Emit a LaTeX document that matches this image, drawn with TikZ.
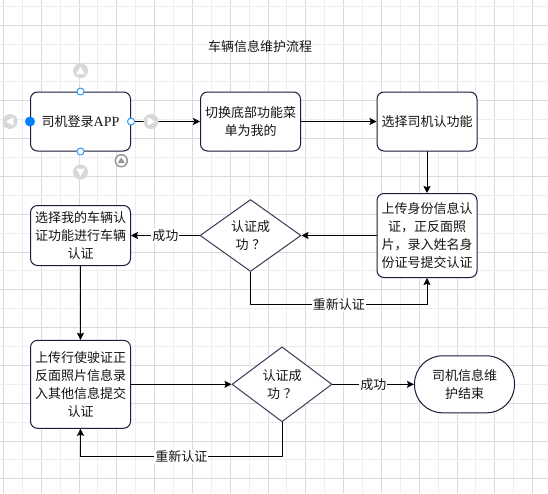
\documentclass[tikz,border=0pt]{standalone}
\usepackage{fontspec}
\setmainfont{Noto Sans CJK SC}
\newfontfamily\latinserif{Liberation Serif}
\usetikzlibrary{shapes.geometric,arrows.meta}

\definecolor{navy}{RGB}{28,28,60}
\definecolor{rim}{RGB}{58,58,88}
\definecolor{gridmajor}{RGB}{218,218,218}
\definecolor{gridminor}{RGB}{238,238,238}
\definecolor{handle}{RGB}{216,216,216}
\definecolor{ring}{RGB}{150,150,150}
\definecolor{selblue}{RGB}{51,153,255}
\definecolor{dotblue}{RGB}{0,127,255}
\definecolor{ink}{RGB}{20,20,20}
\newcommand\flowfont{\fontsize{13}{18}\selectfont}

\begin{document}
\begin{tikzpicture}[x=1pt,y=-1pt,line cap=round,line join=round,
  box/.style={draw=navy,line width=1pt,rounded corners=7pt,fill=white,
    minimum width=\W,inner sep=0pt,align=center,text=ink,font=\flowfont},
  decision/.style={diamond,aspect=1.4,draw=rim,line width=1pt,fill=white,
    inner sep=0pt,align=center,text=ink,font=\flowfont},
  terminal/.style={draw=navy,line width=1pt,rounded corners=28pt,fill=white,
    minimum width=\W,minimum height=57,inner sep=0pt,align=center,text=ink,font=\flowfont},
  flow/.style={line width=1pt,black,-{Stealth[length=7pt,width=7pt,inset=1.2pt]}},
  lbl/.style={fill=white,inner sep=1pt,text=ink,font=\flowfont}]

\def\W{100}
\def\r{7.5}

\fill[white] (0,0) rectangle (548,493);
\useasboundingbox (0,0) rectangle (548,493);

\foreach \i in {0,...,14} {
  \draw[gridminor,line width=0.8pt] ({22.2+37.8*\i},0) -- ++(0,493);
  \draw[gridmajor,line width=0.8pt] ({3.3+37.8*\i},0) -- ++(0,493);
}
\foreach \i in {0,...,12} {
  \draw[gridminor,line width=0.8pt] (0,{6.2+37.8*\i}) -- ++(548,0);
  \draw[gridmajor,line width=0.8pt] (0,{25.1+37.8*\i}) -- ++(548,0);
}

\node[text=ink,font=\flowfont] (T) at (260,47) {车辆信息维护流程};

\node[box,minimum height=59] (A) at (80.5,121.5) {司机登录{\latinserif\fontsize{14}{18}\selectfont APP}};
\node[box,minimum height=59] (B) at (250.5,121.5) {切换底部功能菜\\单为我的};
\node[box,minimum height=59] (C) at (427,121.5) {选择司机认功能};
\node[box,minimum height=84] (D) at (427,235.5) {上传身份信息认\\证，正反面照\\片，录入姓名身\\份证号提交认证};
\node[decision,minimum width=101,minimum height=72] (E) at (250.5,235.5) {认证成\\功\hspace{4pt}？};
\node[box,minimum height=60] (F) at (80.5,235.5) {选择我的车辆认\\证功能进行车辆\\认证};
\node[box,minimum height=88] (G) at (80.5,384.3) {上传行使驶证正\\反面照片信息录\\入其他信息提交\\认证};
\node[decision,minimum width=100,minimum height=75] (H) at (282,384.3) {认证成\\功\hspace{4pt}？};
\node[terminal] (K) at (464.5,384.3) {司机信息维\\护结束};

\draw[flow] (A) -- (B);
\draw[flow] (B) -- (C);
\draw[flow] (C) -- (D);
\draw[flow] (D) -- (E);
\draw[flow] (E) -- node[lbl] {成功} (F);
\draw[flow] (E.south) -- ++(0,32.5) -| node[lbl,pos=0.25] {重新认证} (D.south);
\draw[flow] (F) -- (G);
\draw[flow] (G) -- (H);
\draw[flow] (H) -- node[lbl] {成功} (K);
\draw[flow] (H.south) -- ++(0,34.5) -| node[lbl,pos=0.25] {重新认证} (G.south);

\fill[handle] (80.5,70.7) circle (\r);
\fill[white] (80.5,66.7) -- (76.3,74) -- (84.7,74) -- cycle;
\fill[handle] (80.5,172) circle (\r);
\fill[white] (80.5,176) -- (76.3,168.7) -- (84.7,168.7) -- cycle;
\fill[handle] (10,121.5) circle (\r);
\fill[white] (6,121.5) -- (13.3,117.3) -- (13.3,125.7) -- cycle;
\fill[handle] (151,121.5) circle (\r);
\fill[white] (155,121.5) -- (147.7,117.3) -- (147.7,125.7) -- cycle;

\draw[ring,line width=1.5pt,fill=white] (121.3,160.7) circle (6);
\fill[ring] (121.3,157.3) -- (117.8,163) -- (124.8,163) -- cycle;

\draw[selblue,line width=1pt,fill=white] (A.north) circle (3.5);
\draw[selblue,line width=1pt,fill=white] (A.south) circle (3.5);
\draw[selblue,line width=1pt,fill=white] (A.east) circle (3.5);
\fill[dotblue] (A.west) circle (5);
\end{tikzpicture}
\end{document}
